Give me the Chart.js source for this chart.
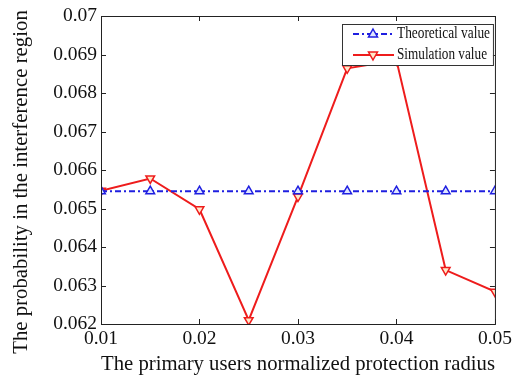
<!DOCTYPE html>
<html>
<head>
<meta charset="utf-8">
<style>
  html, body { margin: 0; padding: 0; background: #fff; }
  #wrap { width: 515px; height: 378px; }
</style>
<script src="https://cdn.jsdelivr.net/npm/chart.js@4"></script>
</head>
<body>
<div id="wrap"><canvas id="probChart" width="515" height="378"></canvas></div>
<script>
// ── data ──────────────────────────────────────────────────────────────────
const radius = [0.01, 0.015, 0.02, 0.025, 0.03, 0.035, 0.04, 0.045, 0.05];
const theoretical = [0.06545, 0.06545, 0.06545, 0.06545, 0.06545, 0.06545, 0.06545, 0.06545, 0.06545];
const simulation = [0.06546, 0.06578, 0.06498, 0.0621, 0.06531, 0.06864, 0.06885, 0.0634, 0.06284];
const xTicks = [0.01, 0.02, 0.03, 0.04, 0.05];
const yTicks = [0.062, 0.063, 0.064, 0.065, 0.066, 0.067, 0.068, 0.069, 0.07];
const yTitle = "The probability in the interference region";

const SERIF = "'Liberation Serif', 'Times New Roman', serif";

// ── frame with inward ticks (matlab look) ────────────────────────────────
const framePlugin = {
  id: "frame",
  afterDatasetsDraw(chart) {
    const { ctx, chartArea: a, scales } = chart;
    ctx.save();
    ctx.strokeStyle = "#222";
    ctx.lineWidth = 1;
    ctx.strokeRect(a.left + 0.5, a.top + 0.5, a.right - a.left, a.bottom - a.top);
    ctx.beginPath();
    xTicks.forEach((v) => {
      const px = Math.round(scales.x.getPixelForValue(v)) + 0.5;
      ctx.moveTo(px, a.bottom); ctx.lineTo(px, a.bottom - 5);
      ctx.moveTo(px, a.top); ctx.lineTo(px, a.top + 5);
    });
    yTicks.forEach((v) => {
      const py = Math.round(scales.y.getPixelForValue(v)) + 0.5;
      ctx.moveTo(a.left, py); ctx.lineTo(a.left + 5, py);
      ctx.moveTo(a.right, py); ctx.lineTo(a.right - 5, py);
    });
    ctx.stroke();

    // y title sits a bit below the plot centre in the original
    ctx.translate(22, 182);
    ctx.rotate(-Math.PI / 2);
    ctx.fillStyle = "#111";
    ctx.font = "20.8px " + SERIF;
    ctx.textAlign = "center";
    ctx.textBaseline = "middle";
    ctx.fillText(yTitle, 0, 0);
    ctx.restore();
  },
};

// ── legend box inside the plot, top right ────────────────────────────────
function drawTri(ctx, x, y, r, down, stroke, fill) {
  const s = down ? -1 : 1;
  ctx.beginPath();
  ctx.moveTo(x, y - s * r);
  ctx.lineTo(x + r * 0.9, y + s * r * 0.6);
  ctx.lineTo(x - r * 0.9, y + s * r * 0.6);
  ctx.closePath();
  ctx.fillStyle = fill;
  ctx.fill();
  ctx.strokeStyle = stroke;
  ctx.lineWidth = 1.5;
  ctx.stroke();
}

const legendPlugin = {
  id: "boxLegend",
  afterDraw(chart) {
    const { ctx, chartArea: a } = chart;
    const x0 = 342, y0 = a.top + 8, w = a.right - 2 - x0, h = 41;
    ctx.save();
    ctx.fillStyle = "#fff";
    ctx.fillRect(x0, y0, w, h);
    ctx.strokeStyle = "#333";
    ctx.lineWidth = 1;
    ctx.strokeRect(x0 + 0.5, y0 + 0.5, w, h);
    const rows = [
      { label: "Theoretical value", color: "#1f1fe0", dash: [6, 3, 2, 3], down: false, fill: "#dfe6ff", width: 93 },
      { label: "Simulation value", color: "#ee1c1c", dash: [], down: true, fill: "#ffe9c9", width: 90 },
    ];
    rows.forEach((r, i) => {
      const yy = y0 + 10 + i * 21;
      ctx.beginPath();
      ctx.setLineDash(r.dash);
      ctx.strokeStyle = r.color;
      ctx.lineWidth = 2;
      ctx.moveTo(x0 + 11, yy);
      ctx.lineTo(x0 + 52, yy);
      ctx.stroke();
      ctx.setLineDash([]);
      drawTri(ctx, x0 + 31, yy, 5, r.down, r.color, r.fill);
      ctx.fillStyle = "#111";
      ctx.font = "16px " + SERIF;
      ctx.textBaseline = "middle";
      ctx.fillText(r.label, x0 + 55, yy, r.width);
    });
    ctx.restore();
  },
};

// ── chart ─────────────────────────────────────────────────────────────────
new Chart(document.getElementById("probChart"), {
  type: "line",
  data: {
    datasets: [
      {
        label: "Theoretical value",
        data: radius.map((x, i) => ({ x, y: theoretical[i] })),
        borderColor: "#1f1fe0",
        borderWidth: 2,
        borderDash: [6, 3, 2, 3],
        pointStyle: "triangle",
        pointRadius: 5,
        pointBorderWidth: 1.5,
        pointBorderColor: "#1f1fe0",
        pointBackgroundColor: "#dfe6ff",
        tension: 0,
      },
      {
        label: "Simulation value",
        data: radius.map((x, i) => ({ x, y: simulation[i] })),
        borderColor: "#ee1c1c",
        borderWidth: 2,
        pointStyle: "triangle",
        rotation: 180,
        pointRadius: 5,
        pointBorderWidth: 1.5,
        pointBorderColor: "#ee1c1c",
        pointBackgroundColor: "#ffe9c9",
        tension: 0,
      },
    ],
  },
  options: {
    responsive: false,
    animation: false,
    layout: { padding: { left: 0, right: 20, top: 16, bottom: 0 } },
    plugins: {
      legend: { display: false },
      tooltip: { enabled: false },
    },
    scales: {
      x: {
        type: "linear",
        min: 0.01,
        max: 0.05,
        afterBuildTicks: (s) => { s.ticks = xTicks.map((v) => ({ value: v })); },
        afterFit: (s) => { s.height = 54; },
        grid: { display: false, drawTicks: false },
        border: { display: false },
        ticks: {
          padding: 3,
          color: "#111",
          font: { family: SERIF, size: 19.5 },
          maxRotation: 0,
          callback: (v) => Number(v.toFixed(3)).toString(),
        },
        title: {
          display: true,
          text: "The primary users normalized protection radius",
          color: "#111",
          font: { family: SERIF, size: 21 },
          padding: { top: 0, bottom: 1 },
        },
      },
      y: {
        min: 0.062,
        max: 0.07,
        afterBuildTicks: (s) => { s.ticks = yTicks.map((v) => ({ value: v })); },
        afterFit: (s) => { s.width = 101; },
        grid: { display: false, drawTicks: false },
        border: { display: false },
        ticks: {
          padding: 4,
          color: "#111",
          font: { family: SERIF, size: 19.5 },
          callback: (v) => Number(v.toFixed(3)).toString(),
        },
        title: { display: false },
      },
    },
  },
  plugins: [framePlugin, legendPlugin],
});
</script>
</body>
</html>
